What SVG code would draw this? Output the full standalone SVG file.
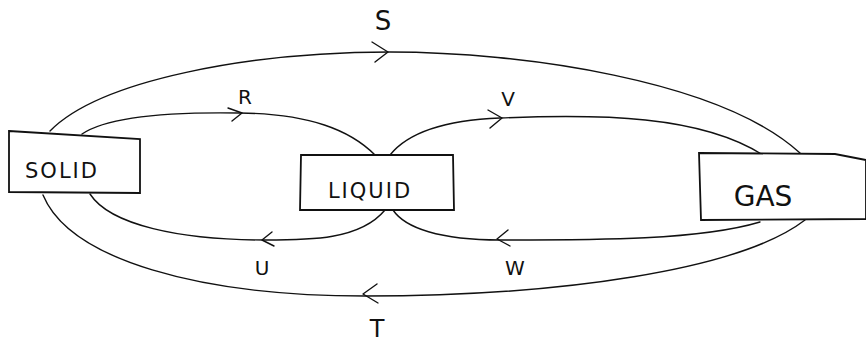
<svg xmlns="http://www.w3.org/2000/svg" width="866" height="349" viewBox="0 0 866 349">
<style>
.ln{fill:none;stroke:#111;stroke-width:1.4;stroke-linecap:round;stroke-linejoin:round}
.bx{fill:#fff;stroke:#111;stroke-width:1.8}
.lb{font-family:"DejaVu Sans","Liberation Sans",sans-serif;fill:#111;text-anchor:middle}
</style>
<rect width="866" height="349" fill="#fff"/>
<g id="connectors">
<path class="ln" d="M50,131 C100,80 250,52 390,52 C520,52 720,80 800,153"/>
<path class="ln" d="M372,42 L388,52 L375,62"/>
<path class="ln" d="M82,134 C110,115 180,112 240,113 C310,114 350,130 375,155"/>
<path class="ln" d="M228,108 L242,113 L232,121"/>
<path class="ln" d="M390,155 C410,130 450,120 500,118 C600,114 700,115 763,155"/>
<path class="ln" d="M488,110 L502,118 L490,128"/>
<path class="ln" d="M385,210 C360,240 310,240 265,240 C180,240 110,225 90,194"/>
<path class="ln" d="M272,232 L262,240 L274,246"/>
<path class="ln" d="M760,222 C700,240 600,240 500,240 C440,240 405,228 393,210"/>
<path class="ln" d="M508,230 L497,239 L510,246"/>
<path class="ln" d="M805,220 C740,270 560,296 365,296 C200,296 70,260 43,195"/>
<path class="ln" d="M377,284 L363,294 L378,303"/>
<text class="lb" x="383" y="30" font-size="26">S</text>
<text class="lb" x="245" y="104" font-size="20">R</text>
<text class="lb" x="508" y="106" font-size="20">V</text>
<text class="lb" x="262" y="275" font-size="20">U</text>
<text class="lb" x="515" y="275" font-size="20">W</text>
<text class="lb" x="377" y="337" font-size="24">T</text>
</g>
<g id="solid">
<path class="bx" d="M9,131 L140,139 L140,193 L9,192 Z"/>
<text class="lb" x="62" y="178" font-size="21" letter-spacing="2">SOLID</text>
</g>
<g id="liquid">
<path class="bx" d="M301,155 L453,155 L454,210 L300,210 Z"/>
<text class="lb" x="370" y="198" font-size="21" letter-spacing="2">LIQUID</text>
</g>
<g id="gas">
<path class="bx" d="M699,153 L835,154 L866,160 L866,219 L701,220 Z"/>
<text class="lb" x="763" y="206" font-size="28">GAS</text>
</g>
</svg>
